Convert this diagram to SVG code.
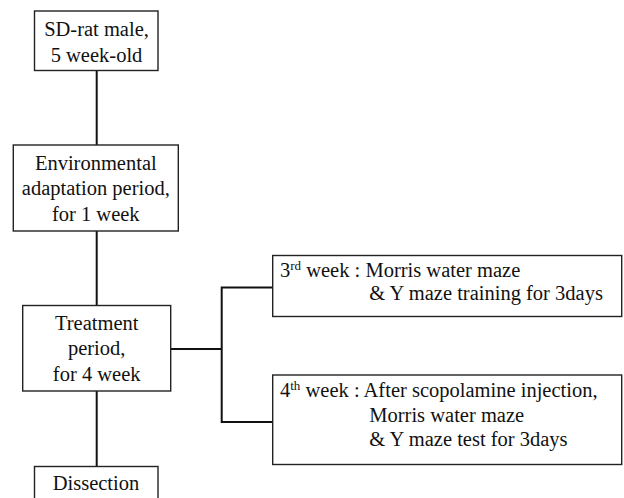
<svg xmlns="http://www.w3.org/2000/svg" width="624" height="498" viewBox="0 0 624 498">
<style>
.box{fill:#fff;stroke:#222;stroke-width:1.4}
.ln{fill:none;stroke:#111;stroke-width:2}
text{font-family:"Liberation Serif","Times New Roman",Tinos,"Nimbus Roman","DejaVu Serif","Noto Serif",serif;font-size:20.5px;fill:#111}
.c{text-anchor:middle}
.sup{font-size:13px}
</style>
<rect width="624" height="498" fill="#fff"/>
<g id="connectors">
<line class="ln" x1="96.7" y1="70.5" x2="96.7" y2="145"/>
<line class="ln" x1="96.7" y1="231" x2="96.7" y2="305.5"/>
<line class="ln" x1="96.7" y1="391" x2="96.7" y2="466.5"/>
<polyline class="ln" points="170.7,349 221.7,349"/>
<polyline class="ln" points="272.7,287.5 221.7,287.5 221.7,422 272.7,422"/>
</g>
<g id="n1">
<rect class="box" x="34.5" y="11" width="123.5" height="59.5"/>
<text class="c" x="96.5" y="36">SD-rat male,</text>
<text class="c" x="96.5" y="62">5 week-old</text>
</g>
<g id="n2">
<rect class="box" x="13.3" y="145" width="165" height="86"/>
<text class="c" x="95.8" y="169.5">Environmental</text>
<text class="c" x="95.8" y="195.2">adaptation period,</text>
<text class="c" x="95.8" y="221">for 1 week</text>
</g>
<g id="n3">
<rect class="box" x="22.7" y="305.5" width="148" height="85.5"/>
<text class="c" x="96.7" y="329.5">Treatment</text>
<text class="c" x="96.7" y="355.2">period,</text>
<text class="c" x="96.7" y="381">for 4 week</text>
</g>
<g id="n4">
<rect class="box" x="34.5" y="466.5" width="123.5" height="40"/>
<text class="c" x="96" y="490">Dissection</text>
</g>
<g id="n5">
<rect class="box" x="272.7" y="255.5" width="349" height="61"/>
<text x="280" y="276.5">3<tspan class="sup" dy="-7">rd</tspan><tspan dy="7"> week : Morris water maze</tspan></text>
<text x="369.3" y="299.5">&amp; Y maze training for 3days</text>
</g>
<g id="n6">
<rect class="box" x="272.7" y="375" width="349" height="89.5"/>
<text x="280" y="397">4<tspan class="sup" dy="-7">th</tspan><tspan dy="7"> week : After scopolamine injection,</tspan></text>
<text x="369.3" y="421.5">Morris water maze</text>
<text x="369.3" y="445.5">&amp; Y maze test for 3days</text>
</g>
</svg>
